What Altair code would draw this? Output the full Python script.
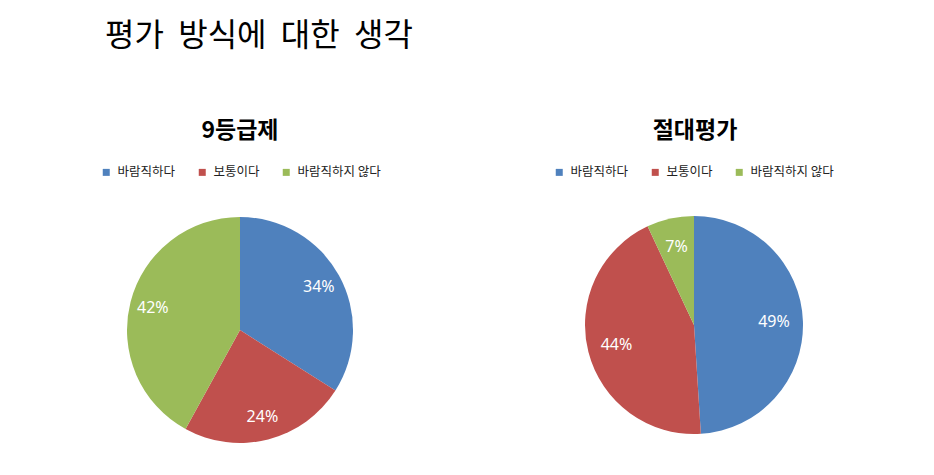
import altair as alt
import pandas as pd

categories = ["바람직하다", "보통이다", "바람직하지 않다"]
colors = ["#4F81BD", "#C0504D", "#9BBB59"]
pie_names = ["9등급제", "절대평가"]
pie1_values = [34, 24, 42]
pie2_values = [49, 44, 7]
main_title = "평가\u00a0 방식에\u00a0 대한\u00a0 생각"

rows = []
for pie, vals in zip(pie_names, [pie1_values, pie2_values]):
    for i, (c, v) in enumerate(zip(categories, vals)):
        rows.append({"pie": pie, "category": c, "value": v, "order": i, "label": f"{v}%"})
df = pd.DataFrame(rows)

FONT = "Noto Sans CJK KR"


def pie_layers(name, cx, cy, r, label_r, lx, ly):
    base = alt.Chart(df).transform_filter(alt.datum.pie == name)
    arc = base.mark_arc(outerRadius=r).encode(
        theta=alt.Theta("value:Q", stack=True),
        order=alt.Order("order:Q"),
        color=alt.Color(
            "category:N",
            scale=alt.Scale(domain=categories, range=colors),
            legend=alt.Legend(
                title=None,
                orient="none",
                direction="horizontal",
                legendX=lx,
                legendY=ly,
                symbolType="square",
                symbolSize=49,
                symbolStrokeWidth=0,
                labelFont=FONT,
                labelFontSize=12.5,
                labelColor="#222222",
                labelOffset=5,
                columnPadding=20,
            ),
        ),
        x=alt.value(cx),
        y=alt.value(cy),
    )
    text = base.mark_text(radius=label_r, fontSize=16, color="white", font="Noto Sans").encode(
        theta=alt.Theta("value:Q", stack=True),
        order=alt.Order("order:Q"),
        detail="category:N",
        text="label:N",
        x=alt.value(cx),
        y=alt.value(cy),
    )
    return arc, text


arc1, text1 = pie_layers(pie_names[0], 232, 322, 113, 90, 92, 158)
arc2, text2 = pie_layers(pie_names[1], 686, 317, 109, 80, 545, 158)

titles_df = pd.DataFrame({"t": pie_names, "px": [232, 687]})
titles = alt.Chart(titles_df).mark_text(
    fontSize=23, fontWeight="bold", font=FONT, color="black", baseline="middle"
).encode(
    x=alt.X("px:Q", scale=None),
    y=alt.value(123),
    text="t:N",
)

main = alt.Chart(pd.DataFrame({"t": [main_title]})).mark_text(
    fontSize=32, font=FONT, color="black", align="left", baseline="middle"
).encode(x=alt.value(97), y=alt.value(28), text="t:N")

chart = (
    alt.layer(arc1, text1, arc2, text2, titles, main)
    .resolve_scale(color="independent", theta="independent")
    .properties(width=918, height=459, padding=0, autosize="none")
    .configure_view(stroke=None)
)

chart.save("out.html", embed_options={"renderer": "svg", "actions": False})
